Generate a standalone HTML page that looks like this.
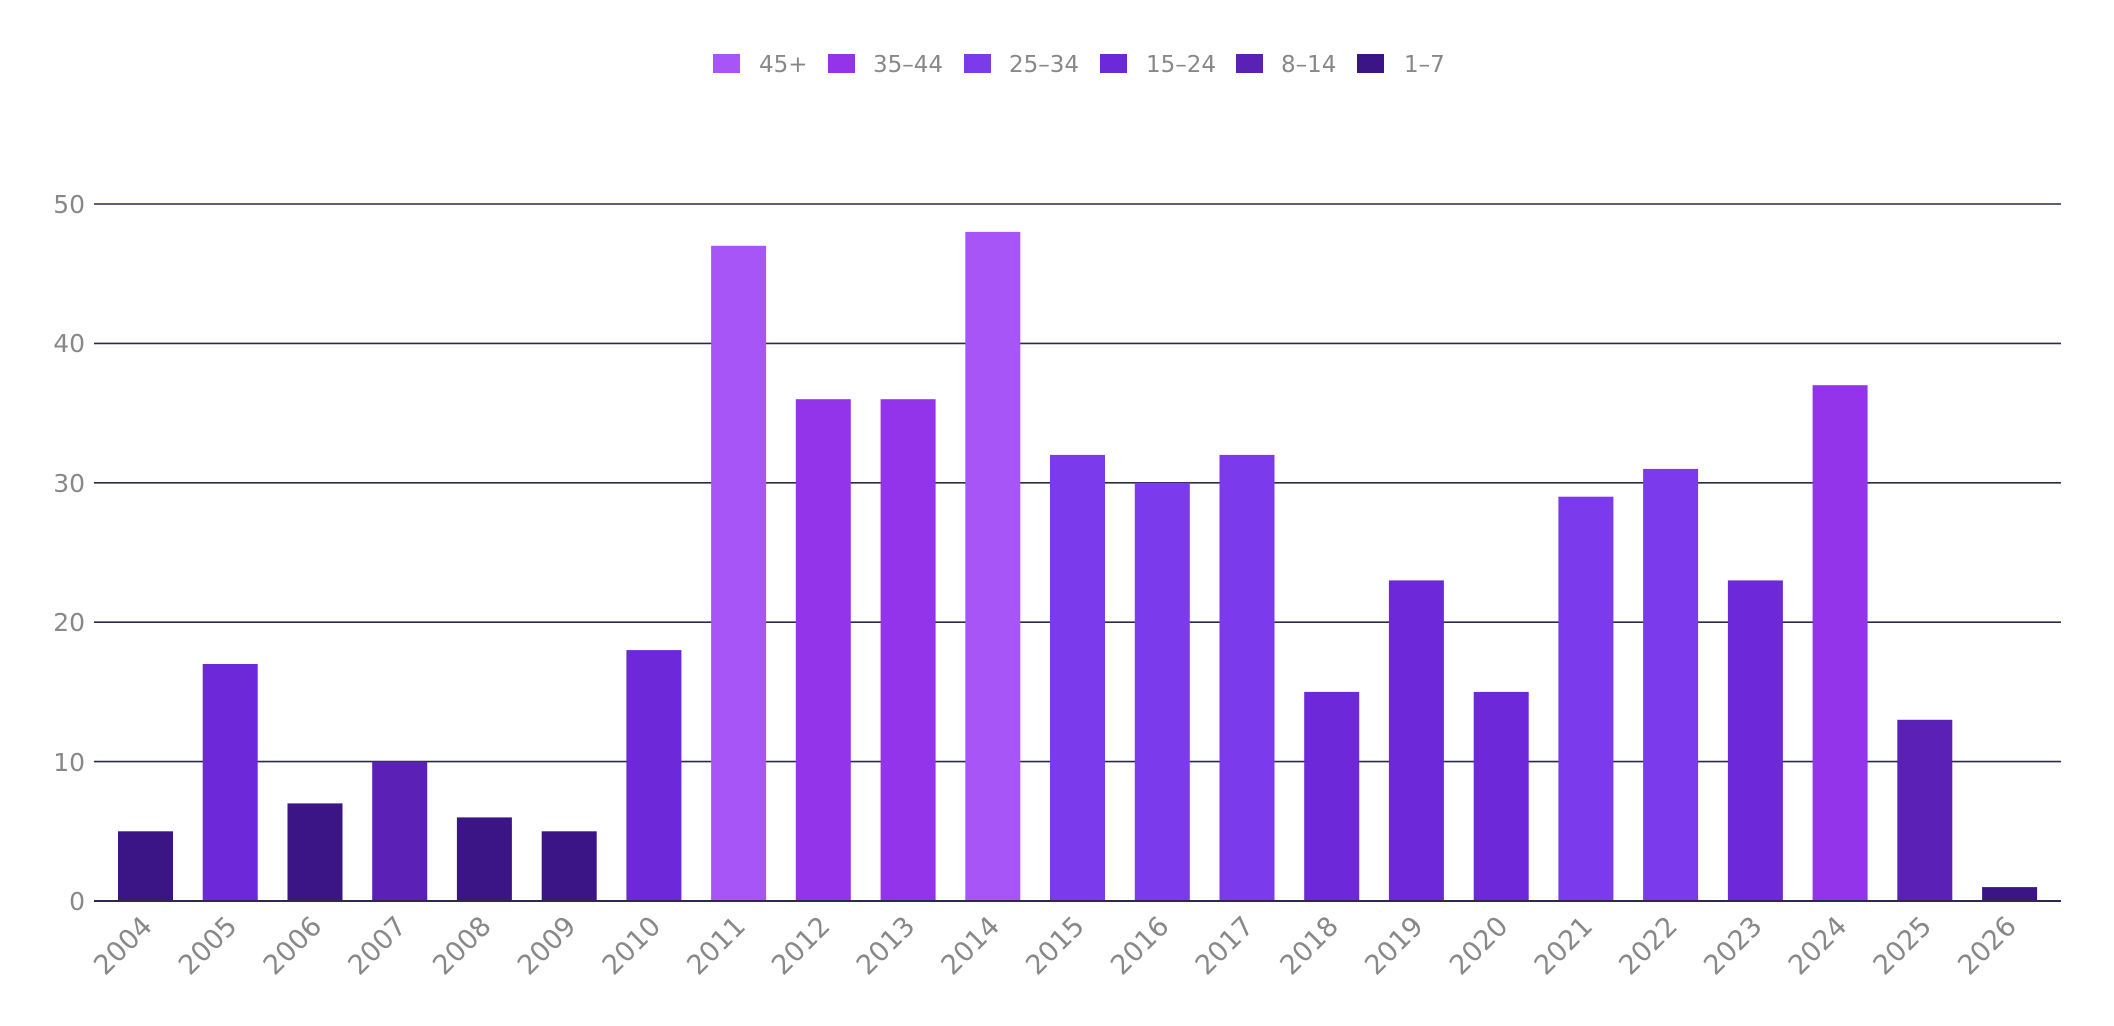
<!DOCTYPE html>
<html><head><meta charset="utf-8"><style>
html,body{margin:0;padding:0;background:#fff;}
svg{display:block;font-family:"DejaVu Sans","Liberation Sans",sans-serif;}
</style></head><body>
<svg width="2114" height="1026" viewBox="0 0 2114 1026" xmlns="http://www.w3.org/2000/svg">
<g stroke="#2b2a4c" stroke-width="1.6">
<line x1="94" x2="2061" y1="204" y2="204"/>
<line x1="94" x2="2061" y1="343.4" y2="343.4"/>
<line x1="94" x2="2061" y1="482.8" y2="482.8"/>
<line x1="94" x2="2061" y1="622.2" y2="622.2"/>
<line x1="94" x2="2061" y1="761.6" y2="761.6"/>
</g>
<g fill="#888" font-size="25" text-anchor="end">
<text x="85" y="213">50</text>
<text x="85" y="352">40</text>
<text x="85" y="492">30</text>
<text x="85" y="631">20</text>
<text x="85" y="771">10</text>
<text x="85" y="910">0</text>
</g>
<g>
<rect x="118" y="831.3" width="55" height="69.7" fill="#3b1585"/>
<rect x="202.7" y="664" width="55" height="237" fill="#6d28d9"/>
<rect x="287.5" y="803.4" width="55" height="97.6" fill="#3b1585"/>
<rect x="372.2" y="761.6" width="55" height="139.4" fill="#5b21b6"/>
<rect x="456.9" y="817.4" width="55" height="83.6" fill="#3b1585"/>
<rect x="541.7" y="831.3" width="55" height="69.7" fill="#3b1585"/>
<rect x="626.4" y="650.1" width="55" height="250.9" fill="#6d28d9"/>
<rect x="711.1" y="245.8" width="55" height="655.2" fill="#a855f7"/>
<rect x="795.8" y="399.2" width="55" height="501.8" fill="#9333ea"/>
<rect x="880.6" y="399.2" width="55" height="501.8" fill="#9333ea"/>
<rect x="965.3" y="231.9" width="55" height="669.1" fill="#a855f7"/>
<rect x="1050" y="454.9" width="55" height="446.1" fill="#7c3aed"/>
<rect x="1134.8" y="482.8" width="55" height="418.2" fill="#7c3aed"/>
<rect x="1219.5" y="454.9" width="55" height="446.1" fill="#7c3aed"/>
<rect x="1304.2" y="691.9" width="55" height="209.1" fill="#6d28d9"/>
<rect x="1388.9" y="580.4" width="55" height="320.6" fill="#6d28d9"/>
<rect x="1473.7" y="691.9" width="55" height="209.1" fill="#6d28d9"/>
<rect x="1558.4" y="496.7" width="55" height="404.3" fill="#7c3aed"/>
<rect x="1643.1" y="468.9" width="55" height="432.1" fill="#7c3aed"/>
<rect x="1727.9" y="580.4" width="55" height="320.6" fill="#6d28d9"/>
<rect x="1812.6" y="385.2" width="55" height="515.8" fill="#9333ea"/>
<rect x="1897.3" y="719.8" width="55" height="181.2" fill="#5b21b6"/>
<rect x="1982.1" y="887.1" width="55" height="13.9" fill="#3b1585"/>
</g>
<line x1="94" x2="2061" y1="901" y2="901" stroke="#2b2a4c" stroke-width="2"/>
<g fill="#888" font-size="27" text-anchor="end">
<text transform="translate(140,914) rotate(-45)" dy="0.72em">2004</text>
<text transform="translate(224.7,914) rotate(-45)" dy="0.72em">2005</text>
<text transform="translate(309.5,914) rotate(-45)" dy="0.72em">2006</text>
<text transform="translate(394.2,914) rotate(-45)" dy="0.72em">2007</text>
<text transform="translate(478.9,914) rotate(-45)" dy="0.72em">2008</text>
<text transform="translate(563.7,914) rotate(-45)" dy="0.72em">2009</text>
<text transform="translate(648.4,914) rotate(-45)" dy="0.72em">2010</text>
<text transform="translate(733.1,914) rotate(-45)" dy="0.72em">2011</text>
<text transform="translate(817.8,914) rotate(-45)" dy="0.72em">2012</text>
<text transform="translate(902.6,914) rotate(-45)" dy="0.72em">2013</text>
<text transform="translate(987.3,914) rotate(-45)" dy="0.72em">2014</text>
<text transform="translate(1072,914) rotate(-45)" dy="0.72em">2015</text>
<text transform="translate(1156.8,914) rotate(-45)" dy="0.72em">2016</text>
<text transform="translate(1241.5,914) rotate(-45)" dy="0.72em">2017</text>
<text transform="translate(1326.2,914) rotate(-45)" dy="0.72em">2018</text>
<text transform="translate(1410.9,914) rotate(-45)" dy="0.72em">2019</text>
<text transform="translate(1495.7,914) rotate(-45)" dy="0.72em">2020</text>
<text transform="translate(1580.4,914) rotate(-45)" dy="0.72em">2021</text>
<text transform="translate(1665.1,914) rotate(-45)" dy="0.72em">2022</text>
<text transform="translate(1749.9,914) rotate(-45)" dy="0.72em">2023</text>
<text transform="translate(1834.6,914) rotate(-45)" dy="0.72em">2024</text>
<text transform="translate(1919.3,914) rotate(-45)" dy="0.72em">2025</text>
<text transform="translate(2004.1,914) rotate(-45)" dy="0.72em">2026</text>
</g>
<g font-size="23" fill="#888">
<rect x="713" y="54" width="27" height="19" fill="#a855f7"/><text x="759" y="72">45+</text>
<rect x="828" y="54" width="27" height="19" fill="#9333ea"/><text x="873" y="72">35–44</text>
<rect x="964" y="54" width="27" height="19" fill="#7c3aed"/><text x="1009" y="72">25–34</text>
<rect x="1100" y="54" width="27" height="19" fill="#6d28d9"/><text x="1146" y="72">15–24</text>
<rect x="1236" y="54" width="27" height="19" fill="#5b21b6"/><text x="1281" y="72">8–14</text>
<rect x="1357" y="54" width="27" height="19" fill="#3b1585"/><text x="1404" y="72">1–7</text>
</g>
</svg>
</body></html>
